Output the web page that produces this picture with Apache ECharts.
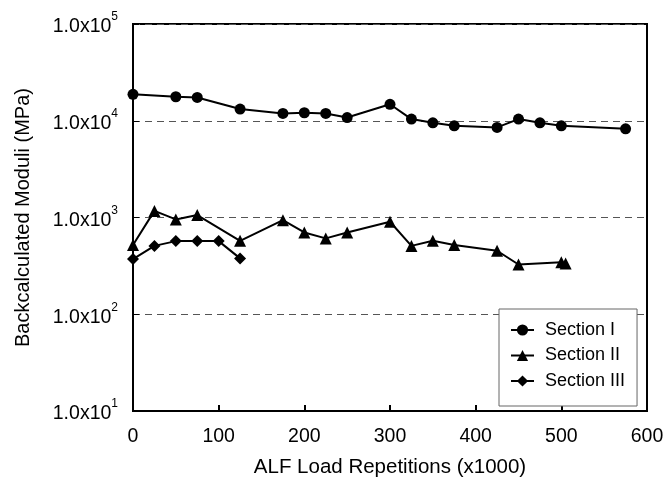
<!DOCTYPE html>
<html>
<head>
<meta charset="utf-8">
<script src="https://cdn.jsdelivr.net/npm/echarts@6/dist/echarts.min.js"></script>
<style>html,body{margin:0;padding:0;background:#fff}#c{width:665px;height:482px}</style>
</head>
<body>
<div id="c"></div>
<script>
const xTicks = [0, 100, 200, 300, 400, 500, 600];
const yTicks = [10, 100, 1000, 10000, 100000];

const s1Name = 'Section I';
const s1X = [0, 50, 75, 125, 175, 200, 225, 250, 300, 325, 350, 375, 425, 450, 475, 500, 575];
const s1Y = [18750, 17700, 17400, 13200, 11900, 12100, 11900, 10800, 14800, 10400, 9530, 8870, 8540, 10400, 9530, 8870, 8260];

const s2Name = 'Section II';
const s2X = [0, 25, 50, 75, 125, 175, 200, 225, 250, 300, 325, 350, 375, 425, 450, 500, 505];
const s2Y = [519, 1170, 955, 1060, 574, 939, 701, 608, 701, 903, 509, 574, 519, 453, 327, 344, 335];

const s3Name = 'Section III';
const s3X = [0, 25, 50, 75, 100, 125];
const s3Y = [372, 509, 570, 570, 570, 378];

const xName = 'ALF Load Repetitions (x1000)';
const yName = 'Backcalculated Moduli (MPa)';

function pairs(xs, ys) { return xs.map((x, i) => [x, ys[i]]); }

const FONT = '"Liberation Sans", Arial, sans-serif';
const chart = echarts.init(document.getElementById('c'));
const common = {
  type: 'line',
  lineStyle: { color: '#000', width: 2 },
  itemStyle: { color: '#000' },
  showAllSymbol: true,
  animation: false
};
chart.setOption({
  animation: false,
  textStyle: { fontFamily: FONT, color: '#000' },
  grid: {
    left: 133, right: 18, top: 24, bottom: 71,
    containLabel: false, outerBoundsMode: 'none',
    show: true, borderColor: '#000', borderWidth: 2, backgroundColor: 'transparent'
  },
  legend: {
    orient: 'vertical',
    left: 499, top: 309,
    padding: [12, 12, 16, 11],
    itemGap: 7.5,
    itemWidth: 23, itemHeight: 14,
    borderColor: '#666', borderWidth: 1,
    backgroundColor: '#fff',
    textStyle: { fontFamily: FONT, fontSize: 18, lineHeight: 18, color: '#000', padding: [0, 0, 0, 6] },
    data: [s1Name, s2Name, s3Name]
  },
  xAxis: {
    type: 'value',
    min: 0, max: 600, interval: 100,
    name: xName, nameLocation: 'middle', nameGap: 46,
    nameTextStyle: { fontFamily: FONT, fontSize: 20.5, color: '#000' },
    axisLine: { lineStyle: { color: '#000', width: 2 } },
    axisTick: { inside: true, length: 6, lineStyle: { color: '#000', width: 2 } },
    axisLabel: { fontFamily: FONT, fontSize: 19.5, color: '#000', margin: 16,
      formatter: v => xTicks.includes(v) ? String(v) : '' },
    splitLine: { show: false }
  },
  yAxis: {
    type: 'log', logBase: 10, min: 10, max: 100000,
    name: yName, nameLocation: 'middle', nameGap: 100,
    nameTextStyle: { fontFamily: FONT, fontSize: 20, color: '#000' },
    axisLine: { show: true, lineStyle: { color: '#000', width: 2 } },
    axisTick: { show: true, inside: true, length: 6, lineStyle: { color: '#000', width: 1 } },
    axisLabel: {
      fontFamily: FONT, color: '#000', margin: 15,
      formatter: v => {
        const e = Math.round(Math.log10(v));
        return yTicks.includes(Math.pow(10, e)) ? '{a|1.0x10}{s|' + e + '}' : '';
      },
      rich: {
        a: { fontFamily: FONT, fontSize: 19.5, color: '#000', lineHeight: 26, verticalAlign: 'bottom' },
        s: { fontFamily: FONT, fontSize: 12, color: '#000', lineHeight: 26, verticalAlign: 'top' }
      }
    },
    splitLine: { show: true, lineStyle: { color: '#555', type: [7, 5], width: 1 } },
    minorSplitLine: { show: false }
  },
  series: [
    Object.assign({}, common, { name: s1Name, symbol: 'circle', symbolSize: 11, data: pairs(s1X, s1Y) }),
    Object.assign({}, common, { name: s2Name, symbol: 'triangle', symbolSize: 12, data: pairs(s2X, s2Y) }),
    Object.assign({}, common, { name: s3Name, symbol: 'diamond', symbolSize: 12, data: pairs(s3X, s3Y) })
  ]
});
</script>
</body>
</html>
